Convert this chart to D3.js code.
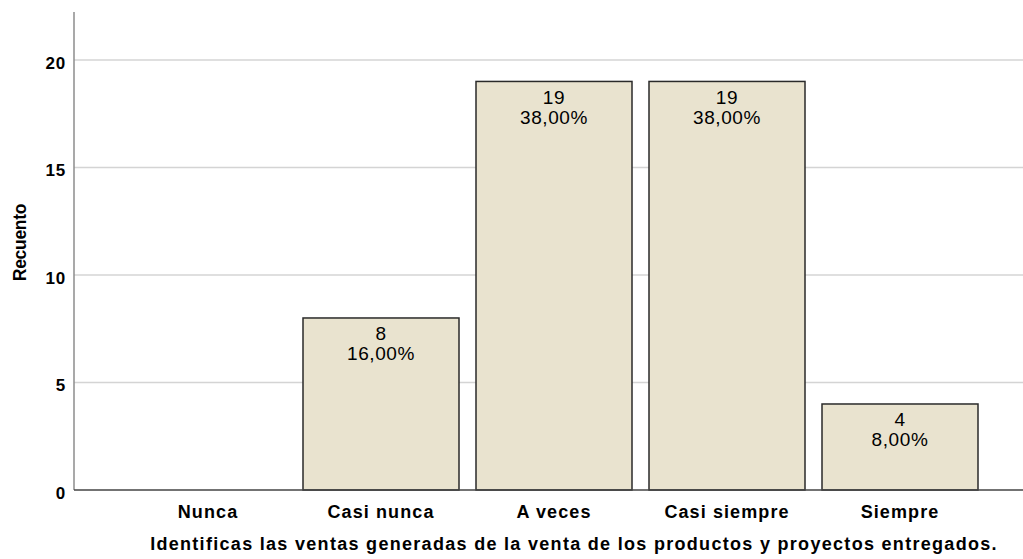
<!DOCTYPE html>
<html><head><meta charset="utf-8">
<script src="https://cdn.jsdelivr.net/npm/d3@7"></script>
<style>
html,body{margin:0;padding:0;background:#fff;}
svg{display:block;font-family:"Liberation Sans",Arial,sans-serif;}
</style></head>
<body><svg id="c" width="1023" height="559"></svg>
<script>
const categories = ["Nunca","Casi nunca","A veces","Casi siempre","Siempre"];
const counts = [0, 8, 19, 19, 4];
const percents = ["", "16,00%", "38,00%", "38,00%", "8,00%"];
const yTicks = [0,5,10,15,20];
const yTitle = "Recuento";
const xTitle = "Identificas las ventas generadas de la venta de los productos y proyectos entregados.";

(function(){
const svg = d3.select("#c");
const mLeft = 74, mRight = 1023, mTop = 12, mBottom = 490;

const x = d3.scaleBand().domain(categories).range([121.5, 986.5]).paddingInner(17/173).paddingOuter(17/346);
const y = d3.scaleLinear().domain([0, 22.23]).range([mBottom, mTop]);

// gridlines
svg.append("g").selectAll("line").data(yTicks.filter(d=>d>0)).join("line")
  .attr("x1", mLeft).attr("x2", mRight)
  .attr("y1", d=>y(d)).attr("y2", d=>y(d))
  .attr("stroke", "#d4d4d4").attr("stroke-width", 1.5);

// y axis
const yAxis = svg.append("g").attr("transform", `translate(${mLeft},0)`)
  .call(d3.axisLeft(y).tickValues(yTicks).tickSize(0).tickPadding(8));
yAxis.select(".domain").remove();
yAxis.selectAll("text").attr("font-size", 17).attr("font-weight", "bold").attr("fill", "#000")
  .attr("letter-spacing", 0.8).attr("dy", "0.5em")
  .attr("font-family", "Liberation Sans, Arial, sans-serif");
svg.append("line").attr("x1", mLeft).attr("x2", mLeft).attr("y1", mTop).attr("y2", mBottom)
  .attr("stroke", "#8c8c8c").attr("stroke-width", 1.5);

// bars
const bars = categories.map((c,i)=>({c, v:counts[i], p:percents[i]})).filter(d=>d.v>0);
svg.append("g").selectAll("rect").data(bars).join("rect")
  .attr("x", d=>x(d.c)).attr("width", x.bandwidth())
  .attr("y", d=>y(d.v)).attr("height", d=>y(0)-y(d.v))
  .attr("fill", "#e9e3cf").attr("stroke", "#2a2a2a").attr("stroke-width", 1.5);

const lab = svg.append("g").selectAll("g").data(bars).join("g");
lab.append("text").attr("x", d=>x(d.c)+x.bandwidth()/2).attr("y", d=>y(d.v)+22.5)
  .attr("text-anchor","middle").attr("font-size", 19).attr("letter-spacing", 0.6).attr("fill","#000").text(d=>d.v);
lab.append("text").attr("x", d=>x(d.c)+x.bandwidth()/2).attr("y", d=>y(d.v)+42.5)
  .attr("text-anchor","middle").attr("font-size", 19).attr("letter-spacing", 0.6).attr("fill","#000").text(d=>d.p);

// baseline
svg.append("line").attr("x1", mLeft).attr("x2", mRight).attr("y1", mBottom).attr("y2", mBottom)
  .attr("stroke", "#444").attr("stroke-width", 1.5);

// x axis labels
const xAxis = svg.append("g").attr("transform", `translate(0,${mBottom})`)
  .call(d3.axisBottom(x).tickSize(0).tickPadding(0));
xAxis.select(".domain").remove();
xAxis.selectAll("text").attr("font-size", 18).attr("font-weight", "bold").attr("fill", "#000")
  .attr("letter-spacing", 1.1).attr("dy", null).attr("y", 28)
  .attr("font-family", "Liberation Sans, Arial, sans-serif");

// titles
svg.append("text").attr("x", 574).attr("y", 550).attr("text-anchor","middle")
  .attr("font-size", 18).attr("font-weight","bold").attr("letter-spacing", 1.3).text(xTitle);
svg.append("text").attr("transform", `translate(26,242.5) rotate(-90)`)
  .attr("text-anchor","middle").attr("font-size", 17.5).attr("font-weight","bold").attr("letter-spacing", -0.3).text(yTitle);
})();
</script></body></html>
